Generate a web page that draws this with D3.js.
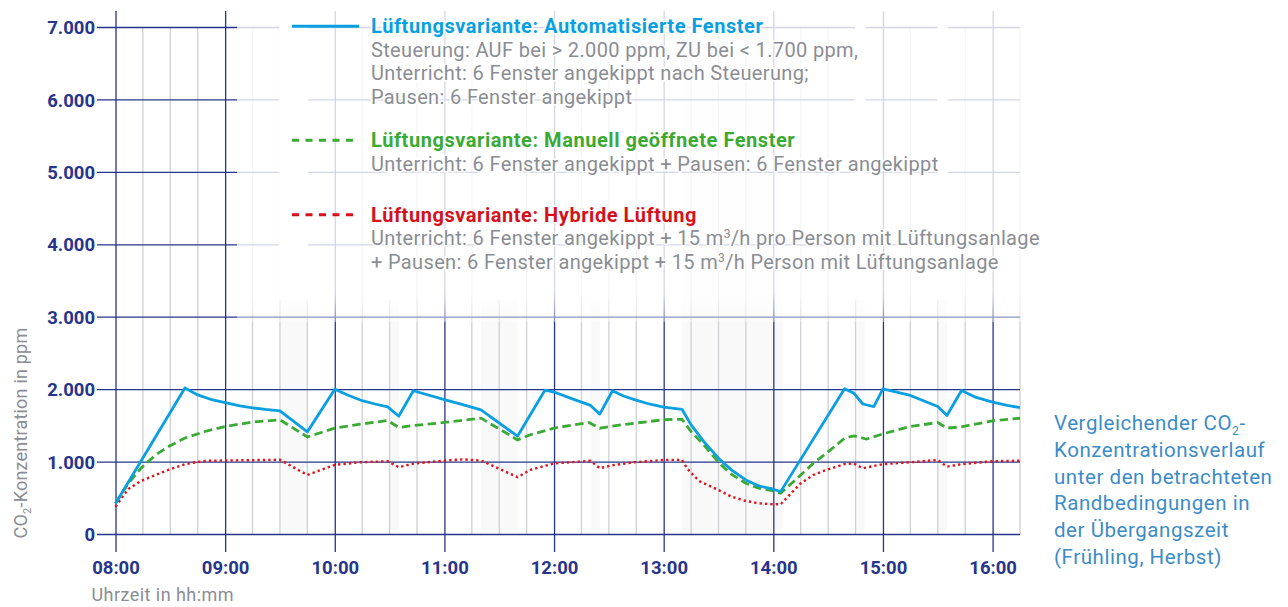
<!DOCTYPE html>
<html>
<head>
<meta charset="utf-8">
<script src="https://cdn.jsdelivr.net/npm/d3@7"></script>
<style>
  body { margin: 0; background: #fff; }
  svg { display: block; font-family: Roboto, "DejaVu Sans", sans-serif; }
</style>
</head>
<body>
<svg id="chart" width="1288" height="607"></svg>
<script>
// CO2 readings in ppm, [time, value]
const autoSeries = [
  ["08:00", 420], ["08:38", 2015], ["08:45", 1920], ["08:52", 1860], ["09:00", 1815],
  ["09:08", 1770], ["09:15", 1742], ["09:22", 1720], ["09:30", 1700], ["09:45", 1410],
  ["10:00", 2000], ["10:07", 1920], ["10:15", 1840], ["10:22", 1795], ["10:29", 1755],
  ["10:35", 1625], ["10:43", 1978], ["11:00", 1855], ["11:10", 1785], ["11:20", 1715],
  ["11:40", 1350], ["11:55", 1985], ["12:00", 1960], ["12:10", 1865], ["12:20", 1775],
  ["12:25", 1655], ["12:32", 1978], ["12:38", 1905], ["12:44", 1855], ["12:52", 1795],
  ["13:00", 1752], ["13:10", 1722], ["13:15", 1507], ["13:22", 1275], ["13:30", 1047],
  ["13:37", 885], ["13:45", 746], ["13:52", 664], ["14:00", 618], ["14:04", 585],
  ["14:39", 2005], ["14:44", 1945], ["14:49", 1795], ["14:55", 1760], ["15:00", 2005],
  ["15:15", 1913], ["15:30", 1760], ["15:35", 1636], ["15:43", 1982], ["15:51", 1885],
  ["16:00", 1822], ["16:08", 1775], ["16:15", 1745]
];

const manualSeries = [
  ["08:00", 425], ["08:07", 700], ["08:14", 910], ["08:22", 1093], ["08:29", 1207],
  ["08:38", 1325], ["08:49", 1415], ["09:00", 1485], ["09:15", 1545], ["09:30", 1577],
  ["09:45", 1340], ["10:00", 1462], ["10:14", 1517], ["10:29", 1567], ["10:35", 1470],
  ["10:43", 1498], ["11:00", 1540], ["11:20", 1600], ["11:40", 1300], ["11:47", 1370],
  ["12:00", 1462], ["12:19", 1540], ["12:25", 1460], ["12:32", 1490], ["12:44", 1530],
  ["13:00", 1577], ["13:10", 1586], ["13:15", 1415], ["13:22", 1230], ["13:30", 990],
  ["13:37", 826], ["13:45", 700], ["13:52", 632], ["14:00", 595], ["14:04", 563],
  ["14:15", 815], ["14:22", 978], ["14:29", 1115], ["14:39", 1322], ["14:44", 1355],
  ["14:51", 1310], ["15:00", 1383], ["15:15", 1484], ["15:30", 1540], ["15:35", 1462],
  ["15:43", 1480], ["16:00", 1563], ["16:15", 1598]
];

const hybridSeries = [
  ["08:00", 378], ["08:07", 620], ["08:14", 733], ["08:22", 815], ["08:29", 885],
  ["08:38", 965], ["08:49", 1010], ["09:00", 1015], ["09:15", 1020], ["09:30", 1025],
  ["09:45", 815], ["10:00", 955], ["10:14", 990], ["10:29", 1005], ["10:35", 922],
  ["10:43", 972], ["11:00", 1013], ["11:10", 1030], ["11:20", 1015], ["11:40", 784],
  ["11:47", 885], ["12:00", 975], ["12:20", 1010], ["12:25", 908], ["12:32", 950],
  ["12:44", 990], ["13:00", 1023], ["13:10", 1023], ["13:13", 900], ["13:17", 792],
  ["13:20", 723], ["13:26", 655], ["13:30", 608], ["13:37", 516], ["13:45", 456],
  ["13:52", 424], ["14:00", 410], ["14:04", 410], ["14:15", 700], ["14:22", 816],
  ["14:29", 885], ["14:39", 965], ["14:44", 975], ["14:49", 908], ["15:00", 965],
  ["15:15", 990], ["15:30", 1023], ["15:35", 930], ["15:43", 965], ["16:00", 1005],
  ["16:15", 1012]
];

// breaks (grey bands)
const pauseStart = ["09:30", "10:30", "11:20", "12:20", "13:10", "14:45", "15:30"];
const pauseEnd   = ["09:45", "10:35", "11:40", "12:25", "14:05", "14:50", "15:35"];

const yTicks = [0, 1000, 2000, 3000, 4000, 5000, 6000, 7000];
const yTickLabels = ["0", "1.000", "2.000", "3.000", "4.000", "5.000", "6.000", "7.000"];
const xTickLabels = ["08:00", "09:00", "10:00", "11:00", "12:00", "13:00", "14:00", "15:00", "16:00"];

const navy = '#27348b';
const minorGrey = '#cfd0d4';
const textGrey = '#8a8d93';
const colors = { auto: '#0a9fe0', manual: '#3aaa35', hybrid: '#e3131b' };

const svg = d3.select('#chart');
const parse = d3.timeParse('%H:%M');

const x = d3.scaleTime()
  .domain([parse('08:00'), parse('16:15')])
  .range([115.5, 1020]);
const y = d3.scaleLinear()
  .domain([0, 7000])
  .range([534, 27]);

const grid = svg.append('g');
const pauses = pauseStart.map((s, i) => [parse(s), parse(pauseEnd[i])]);

// pause bands
grid.selectAll('.pause')
  .data(pauses)
  .enter().append('rect')
  .attr('x', d => x(d[0]))
  .attr('width', d => x(d[1]) - x(d[0]))
  .attr('y', y(7000))
  .attr('height', y(0) - 4 - y(7000))
  .attr('fill', '#f9f9fa');

// minor (15 min) lines
const minor = d3.timeMinute.every(15).range(parse('08:00'), d3.timeMinute.offset(parse('16:15'), 1))
  .filter(d => d.getMinutes() !== 0);
grid.selectAll('.minor')
  .data(minor)
  .enter().append('line')
  .attr('x1', d => x(d)).attr('x2', d => x(d))
  .attr('y1', y(7000)).attr('y2', y(0))
  .attr('stroke', minorGrey)
  .attr('stroke-width', 1.3);

// horizontal lines + y labels
const yAxis = d3.axisLeft(y)
  .tickValues(yTicks)
  .tickSize(-(1020 - 97))
  .tickFormat((d, i) => yTickLabels[i]);
const gy = svg.append('g')
  .attr('transform', 'translate(97,0)')
  .call(yAxis);
gy.select('.domain').remove();
gy.selectAll('.tick line').attr('stroke', navy).attr('stroke-width', 1.3);
gy.selectAll('.tick text')
  .attr('x', -2)
  .attr('dy', '0.36em')
  .attr('fill', navy)
  .style('font-size', '18.5px')
  .style('font-weight', 700)
  .style('font-family', 'Roboto, sans-serif');

// hour lines + x labels
const xAxis = d3.axisBottom(x)
  .ticks(d3.timeHour.every(1))
  .tickSize(552 - 11)
  .tickFormat((d, i) => xTickLabels[i]);
const gx = svg.append('g')
  .attr('transform', 'translate(0,11)')
  .call(xAxis);
gx.select('.domain').remove();
gx.selectAll('.tick line').attr('stroke', navy).attr('stroke-width', 1.3);
gx.selectAll('.tick text')
  .attr('y', 552 - 11 + 22)
  .attr('dy', 0)
  .attr('fill', navy)
  .style('font-size', '18.5px')
  .style('font-weight', 700)
  .style('font-family', 'Roboto, sans-serif');

// white veil behind the legend
const defs = svg.append('defs');
const grad = defs.append('linearGradient')
  .attr('id', 'veil').attr('x1', 0).attr('x2', 0).attr('y1', 0).attr('y2', 1);
grad.append('stop').attr('offset', '0%').attr('stop-color', '#fff').attr('stop-opacity', 0.8);
grad.append('stop').attr('offset', '91%').attr('stop-color', '#fff').attr('stop-opacity', 0.8);
grad.append('stop').attr('offset', '100%').attr('stop-color', '#fff').attr('stop-opacity', 0.4);
svg.append('rect')
  .attr('x', 237).attr('y', 0)
  .attr('width', 1022 - 237).attr('height', 322)
  .attr('fill', 'url(#veil)');

// short breaks are blank in the veiled area
svg.selectAll('.gap')
  .data(pauses.filter((d, i) => i !== 4))
  .enter().append('rect')
  .attr('x', d => x(d[0]) - 0.7)
  .attr('width', d => x(d[1]) - x(d[0]) + 1.4)
  .attr('y', 0)
  .attr('height', 300)
  .attr('fill', '#fff');

// series
const line = d3.line()
  .x(d => x(parse(d[0])))
  .y(d => y(d[1]));

const plot = svg.append('g');
plot.append('path')
  .datum(hybridSeries)
  .attr('d', line)
  .attr('fill', 'none')
  .attr('stroke', colors.hybrid)
  .attr('stroke-width', 2.4)
  .attr('stroke-dasharray', '2.4,3');
plot.append('path')
  .datum(manualSeries)
  .attr('d', line)
  .attr('fill', 'none')
  .attr('stroke', colors.manual)
  .attr('stroke-width', 2.8)
  .attr('stroke-dasharray', '8.5,4.5');
plot.append('path')
  .datum(autoSeries)
  .attr('d', line)
  .attr('fill', 'none')
  .attr('stroke', colors.auto)
  .attr('stroke-width', 2.8)
  .attr('stroke-linejoin', 'round');

// legend
const legendItems = [
  { color: colors.auto, dash: null, base: 33.3,
    title: 'Lüftungsvariante: Automatisierte Fenster',
    lines: [['Steuerung: AUF bei > 2.000 ppm, ZU bei < 1.700 ppm,'],
            ['Unterricht: 6 Fenster angekippt nach Steuerung;'],
            ['Pausen: 6 Fenster angekippt']] },
  { color: colors.manual, dash: '7,6.5', base: 147.3,
    title: 'Lüftungsvariante: Manuell geöffnete Fenster',
    lines: [['Unterricht: 6 Fenster angekippt + Pausen: 6 Fenster angekippt']] },
  { color: '#d5121b', dash: '7,6.5', base: 221.7,
    title: 'Lüftungsvariante: Hybride Lüftung',
    lines: [['Unterricht: 6 Fenster angekippt + 15 m', '3', '/h pro Person mit Lüftungsanlage'],
            ['+ Pausen: 6 Fenster angekippt + 15 m', '3', '/h Person mit Lüftungsanlage']] }
];

const legend = svg.append('g');
legendItems.forEach(item => {
  legend.append('line')
    .attr('x1', 292).attr('x2', 359)
    .attr('y1', item.base - 7).attr('y2', item.base - 7)
    .attr('stroke', item.color)
    .attr('stroke-width', 3)
    .attr('stroke-dasharray', item.dash);
  legend.append('text')
    .attr('x', 371).attr('y', item.base)
    .attr('fill', item.color)
    .attr('stroke', '#fff').attr('stroke-width', 3).attr('paint-order', 'stroke')
    .style('font-size', '20px')
    .style('letter-spacing', '0.55px')
    .style('font-weight', 700)
    .text(item.title);
  item.lines.forEach((parts, k) => {
    const t = legend.append('text')
      .attr('x', 371).attr('y', item.base + 23.5 * (k + 1))
      .attr('fill', textGrey)
      .attr('stroke', '#fff').attr('stroke-width', 3).attr('paint-order', 'stroke')
      .style('font-size', '20px')
      .style('letter-spacing', '0.35px');
    t.append('tspan').text(parts[0]);
    if (parts.length > 1) {
      t.append('tspan').attr('dy', -7).style('font-size', '12px').text(parts[1]);
      t.append('tspan').attr('dy', 7).text(parts[2]);
    }
  });
});

// axis titles
const yTitle = svg.append('text')
  .attr('transform', 'translate(26.5,433) rotate(-90)')
  .attr('text-anchor', 'middle')
  .attr('fill', textGrey)
  .style('font-size', '18px')
  .style('letter-spacing', '0.2px');
yTitle.append('tspan').text('CO');
yTitle.append('tspan').attr('dy', 4).style('font-size', '11px').text('2');
yTitle.append('tspan').attr('dy', -4).text('-Konzentration in ppm');

svg.append('text')
  .attr('x', 91.5).attr('y', 601)
  .attr('fill', textGrey)
  .style('font-size', '18px')
  .style('letter-spacing', '0.45px')
  .text('Uhrzeit in hh:mm');

// side caption
const captionLines = [
  ['Vergleichender CO', '2', '-'],
  ['Konzentrationsverlauf'],
  ['unter den betrachteten'],
  ['Randbedingungen in'],
  ['der Übergangszeit'],
  ['(Frühling, Herbst)']
];
const caption = svg.append('g');
captionLines.forEach((parts, i) => {
  const t = caption.append('text')
    .attr('x', 1054).attr('y', 430 + 26.8 * i)
    .attr('fill', '#3d8cc6')
    .style('font-size', '20.5px')
    .style('letter-spacing', '0.55px');
  t.append('tspan').text(parts[0]);
  if (parts.length > 1) {
    t.append('tspan').attr('dy', 5).style('font-size', '12px').text(parts[1]);
    t.append('tspan').attr('dy', -5).text(parts[2]);
  }
});
</script>
</body>
</html>
